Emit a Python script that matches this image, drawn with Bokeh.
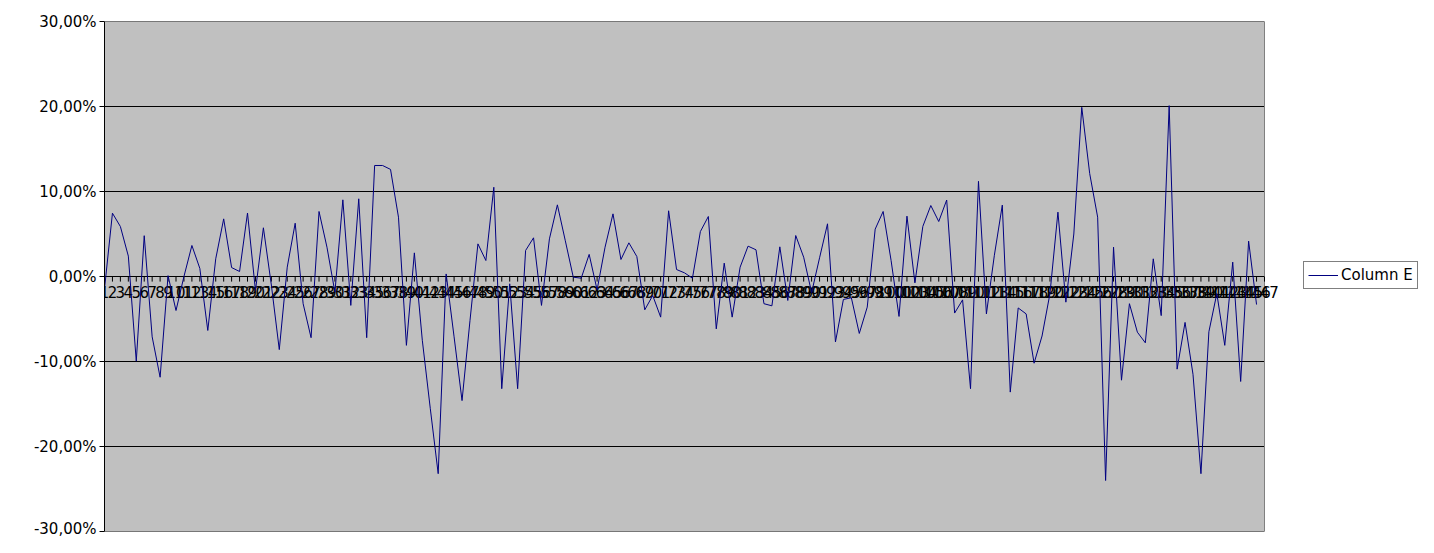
from bokeh.plotting import figure
from bokeh.models import Range1d, FixedTicker, ColumnDataSource, Legend, LegendItem
from bokeh.core.properties import value
from bokeh.embed import file_html
from bokeh.resources import INLINE

# x category labels 1..147
categories = list(range(1, 148))
category_labels = [str(c) for c in categories]

# Column E values in percent (146 data points)
column_e = [
    -1.45, 7.45, 5.88, 2.4, -9.96, 4.8, -7.1, -11.85, 0.1, -4.0,
    0.0, 3.65, 0.95, -6.35, 2.08, 6.78, 1.05, 0.59, 7.47, -1.65,
    5.73, -1.0, -8.6, 1.1, 6.27, -3.2, -7.2, 7.65, 3.45, -1.85,
    9.02, -3.4, 9.14, -7.2, 13.06, 13.06, 12.6, 6.98, -8.1, 2.78,
    -7.5, -15.5, -23.2, 0.3, -7.1, -14.6, -5.2, 3.84, 1.88, 10.5,
    -13.2, -0.86, -13.2, 3.06, 4.55, -3.4, 4.43, 8.43, 4.2, -0.08,
    -0.2, 2.6, -1.57, 3.45, 7.37, 2.0, 3.96, 2.35, -3.92, -2.24,
    -4.78, 7.73, 0.82, 0.43, -0.2, 5.29, 7.06, -6.16, 1.57, -4.78,
    1.1, 3.57, 3.14, -3.2, -3.45, 3.49, -2.82, 4.82, 2.27, -1.9,
    2.2, 6.2, -7.7, -2.7, -2.5, -6.7, -3.6, 5.57, 7.65, 1.9,
    -4.7, 7.1, -0.75, 5.9, 8.35, 6.47, 9.0, -4.3, -2.75, -13.2,
    11.2, -4.4, 2.5, 8.4, -13.6, -3.7, -4.4, -10.2, -7.0, -2.0,
    7.57, -3.02, 5.0, 19.9, 12.1, 6.98, -24.0, 3.45, -12.2, -3.2,
    -6.55, -7.8, 2.08, -4.6, 20.1, -10.9, -5.4, -11.5, -23.2, -6.5,
    -2.0, -8.1, 1.69, -12.35, 4.16, -3.3,
]
x_points = categories[:len(column_e)]

y_ticks = [-30, -20, -10, 0, 10, 20, 30]
y_tick_labels = ["-30,00%", "-20,00%", "-10,00%", "0,00%", "10,00%", "20,00%", "30,00%"]

FONT = "DejaVu Sans"

# layout (pixels)
W, H = 1418, 537
LEFT, TOP = 104, 21
PLOT_W, PLOT_H = 1160, 510
frame_w = W - LEFT
x_lo, x_hi = categories[0], categories[-1]
x_end = x_hi + (frame_w - PLOT_W) * (x_hi - x_lo) / PLOT_W
y_lo, y_hi = y_ticks[0], y_ticks[-1]

p = figure(width=W, height=H, output_backend="svg", toolbar_location=None,
           x_range=Range1d(x_lo, x_end), y_range=Range1d(y_lo, y_hi),
           x_axis_location=None,
           min_border_left=LEFT, min_border_right=0, min_border_top=TOP,
           min_border_bottom=H - TOP - PLOT_H)

p.background_fill_color = "white"
p.border_fill_color = "white"
p.outline_line_color = None
p.xgrid.visible = False
p.ygrid.visible = False

# gray plot area
p.quad(left=[x_lo], right=[x_hi], bottom=[y_lo], top=[y_hi],
       fill_color="#C0C0C0", line_color=None)
# horizontal grid lines
p.segment(x0=[x_lo] * len(y_ticks), y0=y_ticks, x1=[x_hi] * len(y_ticks), y1=y_ticks,
          line_color="black", line_width=1)
# right edge of plot area
p.segment(x0=[x_hi], y0=[y_lo], x1=[x_hi], y1=[y_hi], line_color="#808080", line_width=1)

yax = p.yaxis[0]
yax.ticker = FixedTicker(ticks=y_ticks)
yax.major_label_overrides = {t: l for t, l in zip(y_ticks, y_tick_labels)}
yax.major_label_text_font = FONT
yax.major_label_text_font_size = "15px"
yax.major_label_text_color = "black"
yax.major_tick_out = 5
yax.major_tick_in = 0
yax.minor_tick_out = 0
yax.minor_tick_in = 0
yax.axis_line_color = "black"
yax.major_tick_line_color = "black"
yax.major_label_standoff = 3

# category tick marks on the zero line
tick_src = ColumnDataSource(dict(x=categories, y0=[0] * len(categories),
                                 y1=[-0.6] * len(categories), lab=category_labels))
p.segment(x0="x", y0="y0", x1="x", y1="y1", source=tick_src, line_color="black", line_width=1)

# category labels just below the zero line
p.text(x="x", y="y0", text="lab", source=tick_src, text_font=value(FONT),
       text_font_size="15px", text_align="center", text_baseline="top",
       y_offset=9, text_color="black")

r = p.line(x=x_points, y=column_e, line_color="#000080", line_width=1)

lg = Legend(items=[LegendItem(label="Column E", renderers=[r])],
            location=(1199, 242))
lg.border_line_color = "black"
lg.border_line_width = 1
lg.background_fill_color = "white"
lg.background_fill_alpha = 1
lg.label_text_font = FONT
lg.label_text_font_size = "15px"
lg.label_text_color = "black"
lg.glyph_width = 30
lg.glyph_height = 18
lg.label_height = 18
lg.label_standoff = 3
lg.padding = 4
lg.margin = 0
lg.spacing = 0
p.add_layout(lg, "center")

open("out.html", "w").write(file_html(p, INLINE))
